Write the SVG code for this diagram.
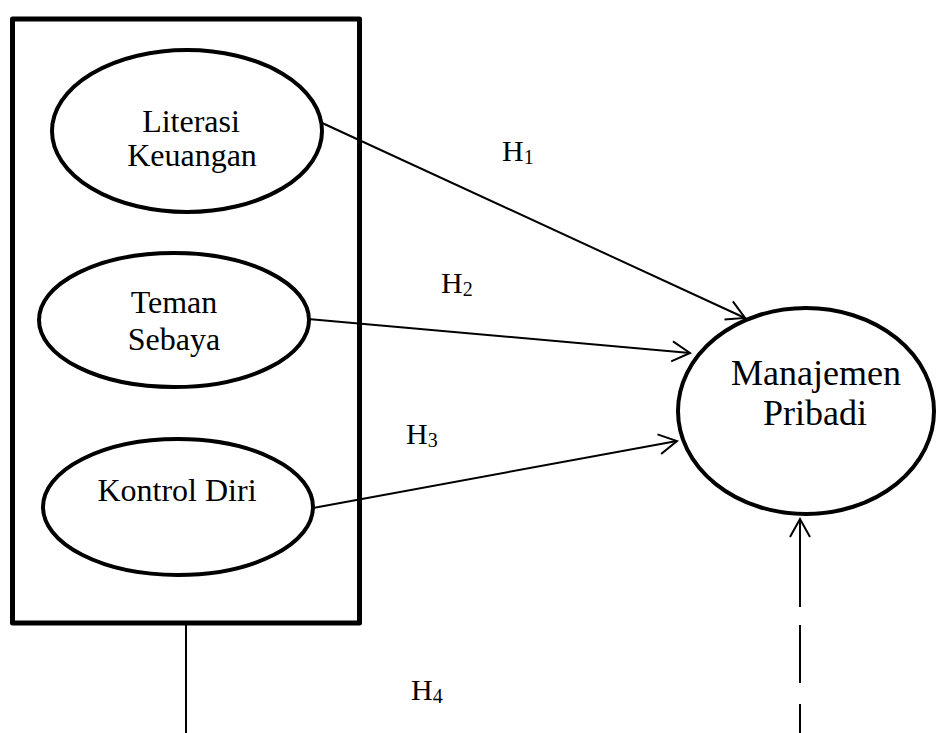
<svg xmlns="http://www.w3.org/2000/svg" width="936" height="733" viewBox="0 0 936 733">
<style>
.box{fill:none;stroke:#000;stroke-width:5;stroke-linejoin:round}
.node{fill:#fff;stroke:#000;stroke-width:4}
.t{font-family:"Liberation Serif","Times New Roman",serif;font-size:32px;fill:#000;text-anchor:middle}
.tb{font-family:"Liberation Serif","Times New Roman",serif;font-size:36px;fill:#000;text-anchor:middle}
.h{font-family:"Liberation Serif","Times New Roman",serif;font-size:30px;fill:#000}
.sub{font-size:20px}
.edge{fill:none;stroke:#000;stroke-width:2}
</style>
<defs>
<marker id="arr" markerUnits="userSpaceOnUse" markerWidth="26" markerHeight="26" viewBox="-22 -13 26 26" refX="0" refY="0" orient="auto">
<path d="M-18,-10 L0,0 L-18,10" fill="none" stroke="#000" stroke-width="2"/>
</marker>
</defs>
<rect id="group-box" class="box" x="12.5" y="19" width="347" height="604"/>
<g id="connectors">
<line class="edge" x1="320" y1="122" x2="745" y2="318" marker-end="url(#arr)"/>
<line class="edge" x1="308" y1="319" x2="690" y2="353" marker-end="url(#arr)"/>
<line class="edge" x1="313" y1="508" x2="677" y2="441" marker-end="url(#arr)"/>
<line class="edge" x1="186" y1="623" x2="186" y2="733"/>
<path class="edge" d="M800,733 L800,519" stroke-dasharray="29 21 58 18 200" marker-end="url(#arr)"/>
</g>
<g id="literasi">
<ellipse class="node" cx="187" cy="131" rx="135" ry="81"/>
<text class="t" x="191" y="132">Literasi</text>
<text class="t" x="192" y="166">Keuangan</text>
</g>
<g id="teman">
<ellipse class="node" cx="174" cy="320" rx="135" ry="67"/>
<text class="t" x="174" y="313">Teman</text>
<text class="t" x="174" y="350">Sebaya</text>
</g>
<g id="kontrol">
<ellipse class="node" cx="178" cy="507" rx="135" ry="68"/>
<text class="t" x="177" y="501">Kontrol Diri</text>
</g>
<g id="manajemen">
<ellipse class="node" cx="806" cy="411" rx="128" ry="103"/>
<text class="tb" x="816" y="385">Manajemen</text>
<text class="tb" x="815" y="425">Pribadi</text>
</g>
<g id="labels">
<text class="h" x="502" y="161">H<tspan class="sub" dy="3">1</tspan></text>
<text class="h" x="441" y="293">H<tspan class="sub" dy="3">2</tspan></text>
<text class="h" x="406" y="444">H<tspan class="sub" dy="3">3</tspan></text>
<text class="h" x="411" y="700">H<tspan class="sub" dy="3">4</tspan></text>
</g>
</svg>
